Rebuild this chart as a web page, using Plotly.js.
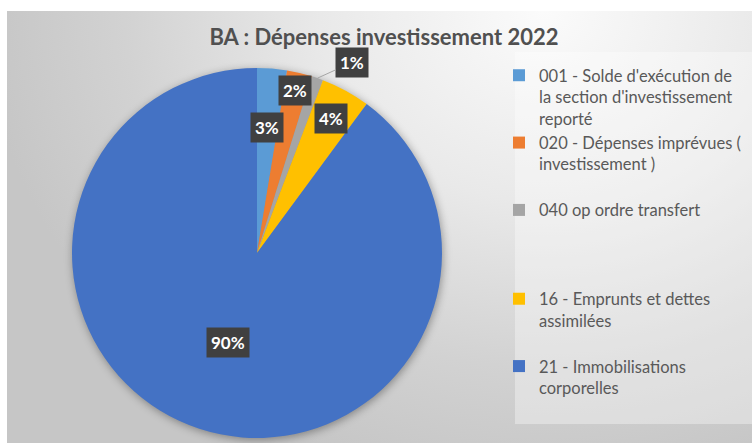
<!DOCTYPE html>
<html>
<head>
<meta charset="utf-8">
<script src="https://cdn.plot.ly/plotly-3.0.1.min.js"></script>
<style>
  html, body { margin: 0; padding: 0; background: #ffffff; }
  #wrap { position: relative; width: 752px; height: 443px; overflow: hidden; }
  #bg { position: absolute; left: 7px; top: 11px; width: 745px; height: 432px;
        background: radial-gradient(ellipse 75% 110% at 72% 0%, #fbfbfb 0%, #e9e9e9 40%, #d2d2d2 75%, #c6c6c6 100%); }
  #chart { position: absolute; left: 0; top: 0; width: 752px; height: 443px; }
  #chart .pielayer { filter: drop-shadow(1px 2px 4px rgba(0,0,0,0.35)); }
</style>
</head>
<body>
<div id="wrap"><div id="bg"></div><div id="chart"></div></div>
<script>
// ---- data ----
const categories = [
  "001 - Solde d'exécution de<br>la section d'investissement<br>reporté",
  "020 - Dépenses imprévues (<br>investissement )",
  "040 op ordre transfert",
  "16 - Emprunts et dettes<br>assimilées",
  "21 - Immobilisations<br>corporelles"
];
const values = [2.6, 2.2, 1.0, 4.3, 89.9];
const colors = ["#5B9BD5", "#ED7D31", "#A5A5A5", "#FFC000", "#4472C4"];
const titleText = "BA : Dépenses investissement 2022";

// ---- style / geometry ----
const W = 752, H = 443;
const CX = 257, CY = 253, R = 185;                  // pie centre & radius (px)
const labelRadius = [0.68, 0.90, 1.0, 0.83, 0.51];  // label distance, fraction of R
const outsideLabel = [false, false, true, false, false];
const legendPad = ["", "<br>", "<br><br><br>", "<br>", ""];

const total = values.reduce((a, b) => a + b, 0);
const annotations = [];
let cum = 0;
values.forEach((v, i) => {
  const mid = (cum + v / 2) / total;
  cum += v;
  const th = mid * 2 * Math.PI;
  const rr = labelRadius[i] * R;
  const px = CX + rr * Math.sin(th);
  const py = CY - rr * Math.cos(th);
  const pct = Math.round(v / total * 100) + "%";
  const a = {
    x: px / W, y: 1 - py / H, xref: "paper", yref: "paper",
    xanchor: "center", yanchor: "middle",
    text: "<b>" + pct + "</b>",
    font: { family: "Lato, 'Open Sans', sans-serif", size: 17, color: "#ffffff" },
    bgcolor: "#404040", borderpad: 4, showarrow: false
  };
  if (outsideLabel[i]) {
    a.showarrow = true; a.arrowhead = 0; a.arrowwidth = 1; a.arrowcolor = "#a6a6a6";
    a.ax = 35; a.ay = -16;
  }
  annotations.push(a);
});

const trace = {
  type: "pie",
  labels: categories.map((c, i) => c + legendPad[i]),
  values: values,
  sort: false,
  direction: "clockwise",
  rotation: 0,
  marker: { colors: colors, line: { width: 0 } },
  textinfo: "none",
  hoverinfo: "label+percent",
  domain: { x: [(CX - R) / W, (CX + R) / W], y: [1 - (CY + R) / H, 1 - (CY - R) / H] }
};

const layout = {
  width: W, height: H,
  margin: { l: 0, r: 0, t: 0, b: 0, autoexpand: false },
  paper_bgcolor: "rgba(0,0,0,0)",
  plot_bgcolor: "rgba(0,0,0,0)",
  title: { text: "<b>" + titleText + "</b>", x: 384 / W, xanchor: "center", y: 1 - 37 / H, yanchor: "middle",
           font: { family: "Lato, 'Open Sans', sans-serif", size: 22, color: "#505050" } },
  showlegend: true,
  legend: {
    x: 499 / W, xanchor: "left", y: 1 - 58 / H, yanchor: "top",
    bgcolor: "rgba(0,0,0,0)", valign: "top", itemwidth: 30,
    font: { family: "Lato, 'Open Sans', sans-serif", size: 16.5, color: "#595959" }
  },
  shapes: [{
    type: "rect", xref: "paper", yref: "paper", layer: "below",
    x0: 515 / W, x1: 1, y0: 1 - 424 / H, y1: 1 - 52 / H,
    fillcolor: "rgba(255,255,255,0.35)", line: { width: 0 }
  }],
  annotations: annotations
};

Plotly.newPlot("chart", [trace], layout, { displayModeBar: false, staticPlot: true });
</script>
</body>
</html>
